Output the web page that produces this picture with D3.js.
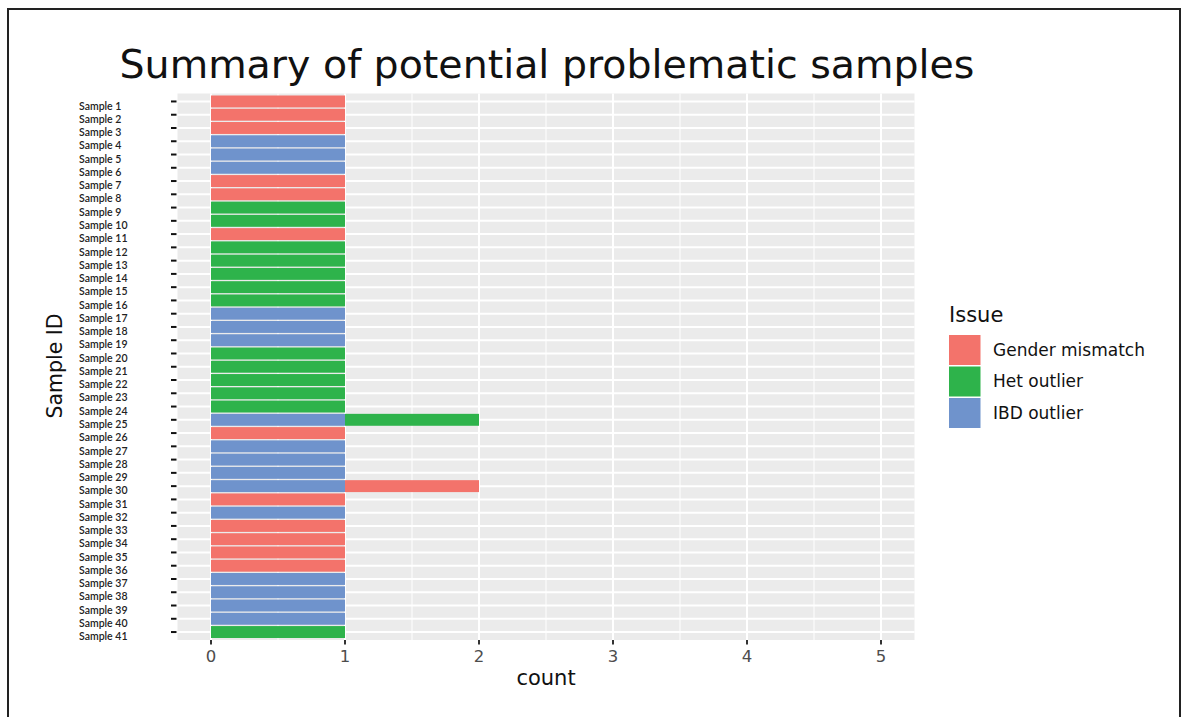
<!DOCTYPE html>
<html><head><meta charset="utf-8">
<script src="https://cdn.jsdelivr.net/npm/d3@7"></script>
<style>body{margin:0;background:#fff;} svg{display:block;}</style>
</head><body>
<svg id="c" width="1182" height="717"></svg>
<script>
const samples = d3.range(1, 42).map(i => "Sample " + i);
const issues = ["Gender mismatch", "Het outlier", "IBD outlier"];
const issueColors = ["#F3736B", "#2EB34B", "#6F93CC"];
// counts per sample (Sample 1..41)
const genderMismatch = [1,1,1,0,0,0,1,1,0,0, 1,0,0,0,0,0,0,0,0,0, 0,0,0,0,0,1,0,0,0,1, 1,0,1,1,1,1,0,0,0,0, 0];
const hetOutlier     = [0,0,0,0,0,0,0,0,1,1, 0,1,1,1,1,1,0,0,0,1, 1,1,1,1,1,0,0,0,0,0, 0,0,0,0,0,0,0,0,0,0, 1];
const ibdOutlier     = [0,0,0,1,1,1,0,0,0,0, 0,0,0,0,0,0,1,1,1,0, 0,0,0,0,1,0,1,1,1,1, 0,1,0,0,0,0,1,1,1,1, 0];
const xTicks = [0, 1, 2, 3, 4, 5];
const xMinor = [0.5, 1.5, 2.5, 3.5, 4.5];

const rows = samples.map((s, i) => ({
  sample: s,
  "Gender mismatch": genderMismatch[i],
  "Het outlier": hetOutlier[i],
  "IBD outlier": ibdOutlier[i]
}));

const svg = d3.select("#c");
const L = 177.5, R = 914.5, T = 93.5, B = 640;

const x = d3.scaleLinear().domain([-0.25, 5.25]).range([L, R]);
const y = d3.scaleBand().domain(samples).range([T, B]).paddingInner(0.1).paddingOuter(0.15);
const color = d3.scaleOrdinal().domain(issues).range(issueColors);

// border
svg.append("rect").attr("x", 8).attr("y", 9).attr("width", 1172).attr("height", 720)
  .attr("fill", "none").attr("stroke", "#222").attr("stroke-width", 2);

// panel
svg.append("rect").attr("x", L).attr("y", T).attr("width", R - L).attr("height", B - T).attr("fill", "#EBEBEB");

const g = svg.append("g");
g.selectAll("line.minor").data(xMinor).join("line")
  .attr("x1", d => x(d)).attr("x2", d => x(d)).attr("y1", T).attr("y2", B)
  .attr("stroke", "#fff").attr("stroke-width", 1);
g.selectAll("line.major").data(xTicks).join("line")
  .attr("x1", d => x(d)).attr("x2", d => x(d)).attr("y1", T).attr("y2", B)
  .attr("stroke", "#fff").attr("stroke-width", 2);
g.selectAll("line.hy").data(samples).join("line")
  .attr("x1", L).attr("x2", R)
  .attr("y1", d => y(d) + y.bandwidth() / 2).attr("y2", d => y(d) + y.bandwidth() / 2)
  .attr("stroke", "#fff").attr("stroke-width", 2);

// stacked bars: IBD at the bottom, then Het, then Gender
const stack = d3.stack().keys(["IBD outlier", "Het outlier", "Gender mismatch"]);
const series = stack(rows);
svg.append("g").selectAll("g").data(series).join("g")
  .attr("fill", d => color(d.key))
  .selectAll("rect").data(d => d.filter(p => p[1] > p[0])).join("rect")
  .attr("x", d => x(d[0])).attr("width", d => x(d[1]) - x(d[0]))
  .attr("y", d => y(d.data.sample)).attr("height", y.bandwidth());

// y ticks and labels
const yc = d => y(d) + y.bandwidth() / 2;
svg.append("g").selectAll("line").data(samples).join("line")
  .attr("x1", 171).attr("x2", 176.5).attr("y1", yc).attr("y2", yc)
  .attr("stroke", "#111").attr("stroke-width", 2);
svg.append("g").selectAll("text").data(samples).join("text")
  .attr("x", 79).attr("y", d => yc(d) + 4.5).attr("dy", "0.35em")
  .attr("font-family", "Lato, 'Open Sans', sans-serif").attr("font-size", 10.5).attr("font-weight", 600)
  .attr("fill", "#222").text(d => d);

// x ticks
svg.append("g").selectAll("line").data(xTicks).join("line")
  .attr("x1", d => x(d)).attr("x2", d => x(d)).attr("y1", B).attr("y2", B + 4.5)
  .attr("stroke", "#333").attr("stroke-width", 2);
svg.append("g").selectAll("text").data(xTicks).join("text")
  .attr("x", d => x(d)).attr("y", 662).attr("text-anchor", "middle")
  .attr("font-family", "'DejaVu Sans', sans-serif").attr("font-size", 16.5).attr("fill", "#4D4D4D")
  .text(d => d);

// axis titles
svg.append("text").attr("x", x(2.5)).attr("y", 685).attr("text-anchor", "middle")
  .attr("font-family", "'DejaVu Sans', sans-serif").attr("font-size", 21).attr("fill", "#111").text("count");
svg.append("text").attr("transform", "translate(62,366) rotate(-90)").attr("text-anchor", "middle")
  .attr("font-family", "'DejaVu Sans', sans-serif").attr("font-size", 20.5).attr("fill", "#111").text("Sample ID");

// title
svg.append("text").attr("x", 547).attr("y", 78).attr("text-anchor", "middle")
  .attr("font-family", "'DejaVu Sans', sans-serif").attr("font-size", 39.5).attr("fill", "#111")
  .text("Summary of potential problematic samples");

// legend
const lg = svg.append("g");
lg.append("text").attr("x", 949).attr("y", 322)
  .attr("font-family", "'DejaVu Sans', sans-serif").attr("font-size", 21).attr("fill", "#111").text("Issue");
const key = lg.selectAll("g").data(issues).join("g")
  .attr("transform", (d, i) => `translate(949,${335 + i * 31.5})`);
key.append("rect").attr("width", 31.5).attr("height", 30).attr("fill", d => color(d));
key.append("text").attr("x", 44).attr("y", 15).attr("dy", "0.35em")
  .attr("font-family", "'DejaVu Sans', sans-serif").attr("font-size", 17).attr("fill", "#111").text(d => d);
</script>
</body></html>
